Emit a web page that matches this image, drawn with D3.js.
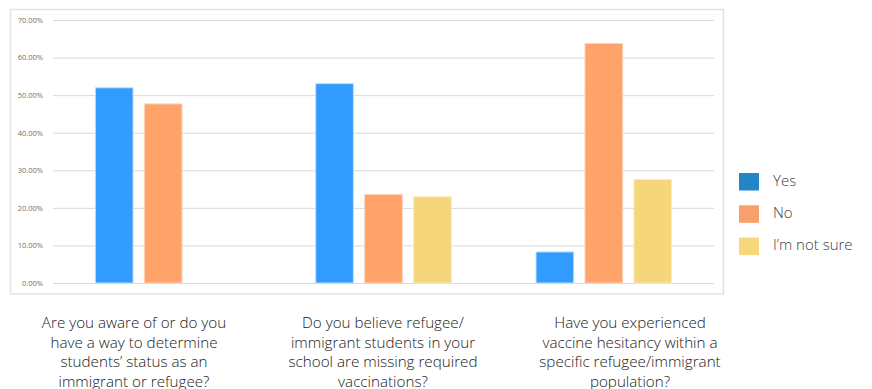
<!DOCTYPE html>
<html>
<head>
<meta charset="utf-8">
<script src="https://cdn.jsdelivr.net/npm/d3@7"></script>
<style>
  html, body { margin: 0; padding: 0; background: #fff; }
  svg { display: block; }
</style>
</head>
<body>
<svg id="chart" width="872" height="389"></svg>
<script>
// ---- data ----
const categories = [
  "Are you aware of or do you have a way to determine students’ status as an immigrant or refugee?",
  "Do you believe refugee/ immigrant students in your school are missing required vaccinations?",
  "Have you experienced vaccine hesitancy within a specific refugee/immigrant population?"
];
const categoryLines = [
  ["Are you aware of or do you", "have a way to determine", "students’ status as an", "immigrant or refugee?"],
  ["Do you believe refugee/", "immigrant students in your", "school are missing required", "vaccinations?"],
  ["Have you experienced", "vaccine hesitancy within a", "specific refugee/immigrant", "population?"]
];
const seriesNames = ["Yes", "No", "I’m not sure"];
const yesValues = [0.521, 0.532, 0.084];
const noValues = [0.478, 0.237, 0.639];
const notSureValues = [null, 0.231, 0.277];
const yTicks = [0, 0.1, 0.2, 0.3, 0.4, 0.5, 0.6, 0.7];

const barColors = ["#319BFF", "#FFA36A", "#F6D67A"];
const barStrokes = ["#BEDFFF", "#FFD3B8", "#FCEBC0"];
const legendColors = ["#2384C6", "#F8A06C", "#F6D77B"];

const seriesValues = [yesValues, noValues, notSureValues];

// ---- layout ----
const svg = d3.select("#chart");
const plot = { left: 53, right: 714, top: 20, bottom: 283 };

// chart frame
svg.append("rect")
  .attr("x", 10.5).attr("y", 9.5)
  .attr("width", 713).attr("height", 284.5)
  .attr("fill", "none")
  .attr("stroke", "#e3e3e3")
  .attr("stroke-width", 1.5);

const y = d3.scaleLinear().domain([0, 0.7]).range([plot.bottom, plot.top]);
const x0 = d3.scaleBand().domain(d3.range(categories.length))
  .range([plot.left, plot.right]).paddingInner(0.38).paddingOuter(0.19);
const x1 = d3.scaleBand().domain(d3.range(seriesNames.length))
  .range([0, x0.bandwidth()]).paddingInner(0.21).paddingOuter(0);

// gridlines + y labels
const yAxis = d3.axisLeft(y).tickValues(yTicks)
  .tickSize(-(plot.right - plot.left))
  .tickFormat(d3.format(".2%"))
  .tickPadding(10);
const gy = svg.append("g").attr("transform", `translate(${plot.left},0)`).call(yAxis);
gy.select(".domain").remove();
gy.selectAll(".tick line").attr("stroke", "#d9d9d9").attr("stroke-width", 1);
gy.selectAll(".tick text")
  .attr("fill", "#707070")
  .style("font-family", "'Open Sans', 'Noto Sans', sans-serif")
  .style("font-size", "7.5px");

// bars
const groups = svg.append("g").selectAll("g")
  .data(categories.map((c, i) => i))
  .join("g")
  .attr("transform", i => `translate(${x0(i)},0)`);

groups.selectAll("rect")
  .data(i => seriesValues.map((vals, s) => ({ s, v: vals[i] })).filter(d => d.v != null))
  .join("rect")
  .attr("x", d => x1(d.s) + 0.5)
  .attr("width", x1.bandwidth() - 1)
  .attr("y", d => y(d.v) + 0.5)
  .attr("height", d => y(0) - y(d.v) - 0.5)
  .attr("fill", d => barColors[d.s])
  .attr("stroke", d => barStrokes[d.s])
  .attr("stroke-width", 1);

// legend
const legend = svg.append("g").attr("transform", "translate(739,173)");
const li = legend.selectAll("g").data(seriesNames).join("g")
  .attr("transform", (d, i) => `translate(0,${i * 32.3})`);
li.append("rect").attr("width", 20).attr("height", 17.5)
  .attr("fill", (d, i) => legendColors[i]);
li.append("text").attr("x", 34).attr("y", 12.5)
  .text(d => d)
  .attr("fill", "#404040")
  .style("font-family", "'Open Sans', 'Noto Sans', sans-serif")
  .style("font-size", "15px")
  .style("font-weight", 300);

// category labels (below chart frame)
const labelCenters = [134, 383, 630];
const lab = svg.append("g").selectAll("text").data(categoryLines).join("text")
  .attr("text-anchor", "middle")
  .attr("fill", "#1a1a1a")
  .style("font-family", "'Open Sans', 'Noto Sans', sans-serif")
  .style("font-size", "15.2px")
  .style("font-weight", 300);
lab.each(function (lines, i) {
  const t = d3.select(this);
  lines.forEach((ln, k) => {
    t.append("tspan").attr("x", labelCenters[i]).attr("y", 328 + k * 19.5).text(ln);
  });
});
</script>
</body>
</html>
